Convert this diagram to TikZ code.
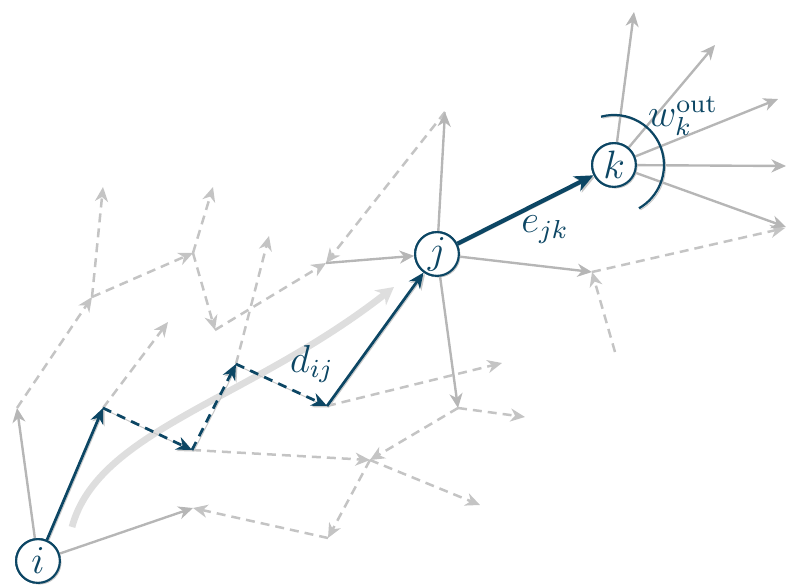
\documentclass[tikz,border=0pt]{standalone}
\usetikzlibrary{arrows.meta,shadows}
\definecolor{navy}{RGB}{12,70,100}
\definecolor{edgegray}{RGB}{182,182,182}
\definecolor{dashgray}{RGB}{196,196,196}
\definecolor{pathgray}{RGB}{222,222,222}
\definecolor{shadowgray}{RGB}{200,200,200}
\begin{document}
\begin{tikzpicture}[x=0.4pt,y=-0.4pt,
  gtip/.style={-{Stealth[length=5.8pt,width=5.2pt,inset=1.8pt]}},
  gsolid/.style={draw=edgegray, line width=0.95pt, gtip},
  gdash/.style={draw=dashgray, line width=1pt, dash pattern=on 3.6pt off 2.4pt, gtip},
  shadowed/.style={preaction={draw=shadowgray, transform canvas={xshift=0.6pt,yshift=-0.6pt}}},
  dtip/.style={-{Stealth[length=6.2pt,width=5.4pt,inset=2pt]}},
  dsolid/.style={draw=navy, line width=1.1pt, dtip, shadowed},
  ddash/.style={draw=navy, line width=1.1pt, dash pattern=on 3.6pt off 2.6pt, dtip, shadowed},
  dthick/.style={draw=navy, line width=1.7pt, -{Stealth[length=7.5pt,width=6.5pt,inset=2.2pt]}, shadowed},
  vert/.style={circle, draw=navy, line width=0.85pt, fill=white, minimum size=17.5pt, inner sep=0pt,
    text=navy, font=\Large,
    drop shadow={shadow xshift=0.6pt, shadow yshift=-0.6pt, fill=shadowgray, opacity=1}},
  lbl/.style={text=navy, font=\large, inner sep=0pt}
]
\useasboundingbox (0,0) rectangle (788,587);
% vertices
\coordinate (A) at (103,408);
\coordinate (B) at (192,450);
\coordinate (C) at (236,364);
\coordinate (D) at (327,406);
\coordinate (E) at (17,408);
\coordinate (F) at (193,508);
\coordinate (G) at (445,112);
\coordinate (H) at (326,263);
\coordinate (I) at (458,408);
\coordinate (J) at (592,272);
\coordinate (K) at (370,460);
\coordinate (L) at (328,538);
\coordinate (M) at (92,297);
\coordinate (N) at (193,253);
\coordinate (O) at (215,330);
\coordinate (t1) at (103,187);
\coordinate (t2) at (213,187);
\coordinate (t3) at (269,236);
\coordinate (t4) at (168,322);
\coordinate (t5) at (502,363);
\coordinate (t6) at (525,417);
\coordinate (t7) at (480,505);
\coordinate (t8) at (785,228);
\coordinate (t9) at (615,352);
\coordinate (k1) at (634,12);
\coordinate (k2) at (715,45);
\coordinate (k3) at (778,99);
\coordinate (k4) at (786,166);
\coordinate (k5) at (786,227);
\coordinate (cs) at (72,527);
\coordinate (ce) at (394,287);

\node[vert] (i) at (38,561) {$i$};
\node[vert] (j) at (437,254) {$j$};
\node[vert] (k) at (614,165) {$k$};

% gray dashed edges
\draw[gdash] (E) -- (M);
\draw[gdash] (M) -- (t1);
\draw[gdash] (M) -- (N);
\draw[gdash] (N) -- (t2);
\draw[gdash] (N) -- (O);
\draw[gdash] (O) -- (H);
\draw[gdash] (G) -- (H);
\draw[gdash] (A) -- (t4);
\draw[gdash] (C) -- (t3);
\draw[gdash] (D) -- (t5);
\draw[gdash] (B) -- (K);
\draw[gdash] (I) -- (K);
\draw[gdash] (I) -- (t6);
\draw[gdash] (K) -- (t7);
\draw[gdash] (K) -- (L);
\draw[gdash] (L) -- (F);
\draw[gdash] (J) -- (t8);
\draw[gdash] (t9) -- (J);

% gray solid edges
\draw[gsolid] (i) -- (E);
\draw[gsolid] (i) -- (F);
\draw[gsolid] (H) -- (j);
\draw[gsolid] (j) -- (G);
\draw[gsolid] (j) -- (I);
\draw[gsolid] (j) -- (J);
\draw[gsolid] (k) -- (k1);
\draw[gsolid] (k) -- (k2);
\draw[gsolid] (k) -- (k3);
\draw[gsolid] (k) -- (k4);
\draw[gsolid] (k) -- (k5);

% trend curve
\draw[pathgray, line width=2.7pt, -{Stealth[length=7pt,width=7.5pt,inset=2.2pt]}]
  (cs) .. controls (98,430) and (250,400) .. (ce);

% highlighted path
\draw[dsolid] (i) -- (A);
\draw[ddash] (A) -- (B);
\draw[ddash] (B) -- (C);
\draw[ddash] (C) -- (D);
\draw[dsolid] (D) -- (j);
\draw[dthick] (j) -- (k);

% out-weight arc
\draw[navy, line width=0.9pt, shadowed] (k.center) ++(105:20pt) arc[start angle=105, end angle=-60, radius=20pt];

% redraw nodes on top
\node[vert] at (i) {\scalebox{1.1}{$i$}};
\node[vert] at (j) {\scalebox{1.1}{$j$}};
\node[vert] at (k) {\scalebox{1.1}{$k$}};

% labels
\node[lbl] (dl) at (312,364) {\scalebox{1.3}{$d_{ij}$}};
\node[lbl] (el) at (545,230) {\scalebox{1.3}{$e_{jk}$}};
\node[lbl] (wl) at (683,116) {\scalebox{1.3}{$w_k^{\mathrm{out}}$}};
\end{tikzpicture}
\end{document}
